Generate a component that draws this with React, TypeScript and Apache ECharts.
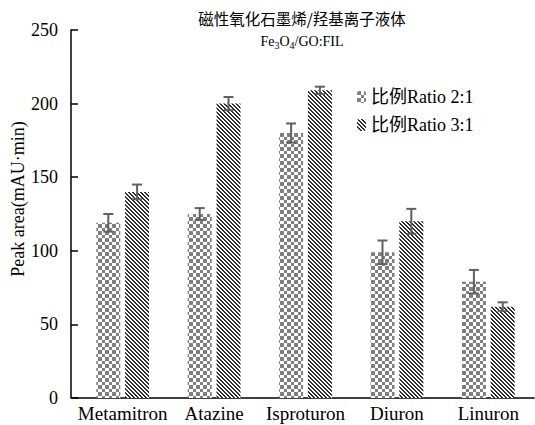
import React, { useEffect, useRef } from 'react';
import * as echarts from 'echarts';

const categories = ['Metamitron', 'Atazine', 'Isproturon', 'Diuron', 'Linuron'];
const seriesNames = ['比例Ratio 2:1', '比例Ratio 3:1'];
const ratio21 = [119, 125, 180, 99, 79];
const ratio21Err = [6, 4, 6.5, 8, 8];
const ratio31 = [140, 200, 209, 120, 62];
const ratio31Err = [5, 4.5, 2.5, 8.5, 3];
const yTicks = [0, 50, 100, 150, 200, 250];
const titleText = '磁性氧化石墨烯/羟基离子液体';
const subTitleText = '{a|Fe}{b|3}{a|O}{b|4}{a|/GO:FIL}';
const yAxisName = 'Peak area(mAU·min)';

const FONT = "'Liberation Serif', 'Noto Sans CJK SC', serif";
const BAR_W = 24;
const GAP = 0.2;

function checkerPattern(): HTMLCanvasElement {
  const c = document.createElement('canvas');
  c.width = 14;
  c.height = 14;
  const ctx = c.getContext('2d')!;
  ctx.fillStyle = '#ffffff';
  ctx.fillRect(0, 0, 14, 14);
  ctx.fillStyle = '#7f7f7f';
  const b = [0, 4, 7, 11, 14];
  for (let i = 0; i < 4; i++) {
    for (let j = 0; j < 4; j++) {
      if ((i + j) % 2 === 0) ctx.fillRect(b[i], b[j], b[i + 1] - b[i], b[j + 1] - b[j]);
    }
  }
  return c;
}

function stripePattern(): HTMLCanvasElement {
  const c = document.createElement('canvas');
  c.width = 4;
  c.height = 4;
  const ctx = c.getContext('2d')!;
  ctx.fillStyle = '#ffffff';
  ctx.fillRect(0, 0, 4, 4);
  ctx.fillStyle = '#2e2e2e';
  for (let y = 0; y < 4; y++) {
    for (let x = 0; x < 4; x++) {
      const d = (x - y + 8) % 4;
      if (d === 0 || d === 1) ctx.fillRect(x, y, 1, 1);
    }
  }
  return c;
}

function errSeries(values: number[], errs: number[], side: number) {
  const data = values.map((v, i) => [i, v - errs[i], v + errs[i]]);
  return {
    type: 'custom',
    silent: true,
    z: 10,
    data,
    renderItem: (params: any, api: any) => {
      const idx = api.value(0);
      const lo = api.coord([idx, api.value(1)]);
      const hi = api.coord([idx, api.value(2)]);
      const off = side * (BAR_W / 2 + (BAR_W * GAP) / 2);
      const x = lo[0] + off;
      const cap = 5;
      const style = { stroke: '#606060', lineWidth: 2 };
      return {
        type: 'group',
        children: [
          { type: 'line', shape: { x1: x, y1: lo[1], x2: x, y2: hi[1] }, style },
          { type: 'line', shape: { x1: x - cap, y1: hi[1], x2: x + cap, y2: hi[1] }, style },
          { type: 'line', shape: { x1: x - cap, y1: lo[1], x2: x + cap, y2: lo[1] }, style },
        ],
      };
    },
  };
}

export default function App() {
  const ref = useRef<HTMLDivElement>(null);
  useEffect(() => {
    if (!ref.current) return;
    const chart = echarts.init(ref.current, null, { renderer: 'svg' });
    const checker = { image: checkerPattern(), repeat: 'repeat' };
    const stripe = { image: stripePattern(), repeat: 'repeat' };
    chart.setOption({
      animation: false,
      backgroundColor: '#ffffff',
      textStyle: { fontFamily: FONT },
      grid: { left: 77, right: 1, top: 30, bottom: 27 },
      legend: {
        orient: 'vertical',
        left: 352,
        top: 83,
        itemWidth: 9,
        itemHeight: 12,
        itemGap: 10,
        textStyle: { fontSize: 18, fontFamily: FONT, color: '#000' },
        data: seriesNames,
      },
      graphic: [
        {
          type: 'text',
          x: 302,
          y: 18,
          style: {
            text: titleText,
            fontSize: 15.5,
            fontFamily: "'Noto Sans CJK SC', serif",
            fill: '#000',
            textAlign: 'center',
            textVerticalAlign: 'middle',
          },
        },
        {
          type: 'text',
          x: 302,
          y: 41,
          style: {
            text: subTitleText,
            fill: '#000',
            textAlign: 'center',
            textVerticalAlign: 'middle',
            rich: {
              a: { fontSize: 14, fontFamily: FONT, fill: '#000' },
              b: { fontSize: 10, fontFamily: FONT, fill: '#000', padding: [8, 0, 0, 0] },
            },
          },
        },
        {
          type: 'text',
          x: 18,
          y: 199,
          rotation: Math.PI / 2,
          style: {
            text: yAxisName,
            fontSize: 18,
            fontFamily: FONT,
            fill: '#000',
            textAlign: 'center',
            textVerticalAlign: 'middle',
          },
        },
        {
          type: 'line',
          shape: { x1: 71, y1: 398, x2: 78, y2: 398 },
          style: { stroke: '#000', lineWidth: 1.5 },
        },
      ],
      xAxis: {
        type: 'category',
        data: categories,
        axisLine: { lineStyle: { color: '#000', width: 1.5 } },
        axisTick: { show: false },
        axisLabel: { fontSize: 19, fontFamily: FONT, color: '#000', margin: 6, interval: 0 },
      },
      yAxis: {
        type: 'value',
        min: yTicks[0],
        max: yTicks[yTicks.length - 1],
        interval: yTicks[1] - yTicks[0],
        offset: 6,
        axisLine: { show: true, lineStyle: { color: '#000', width: 1.5 } },
        axisTick: { show: true, inside: true, length: 7, lineStyle: { color: '#000', width: 1.5 } },
        axisLabel: { fontSize: 18, fontFamily: FONT, color: '#000', margin: 13 },
        splitLine: { show: false },
      },
      series: [
        {
          name: seriesNames[0],
          type: 'bar',
          data: ratio21,
          barWidth: BAR_W,
          barGap: '20%',
          itemStyle: { color: checker },
        },
        {
          name: seriesNames[1],
          type: 'bar',
          data: ratio31,
          barWidth: BAR_W,
          barGap: '20%',
          itemStyle: { color: stripe },
        },
        errSeries(ratio21, ratio21Err, -1),
        errSeries(ratio31, ratio31Err, 1),
      ],
    });
    return () => chart.dispose();
  }, []);
  return (
    <div
      ref={ref}
      style={{ position: 'fixed', left: 0, top: 0, width: 535, height: 425 }}
    />
  );
}
